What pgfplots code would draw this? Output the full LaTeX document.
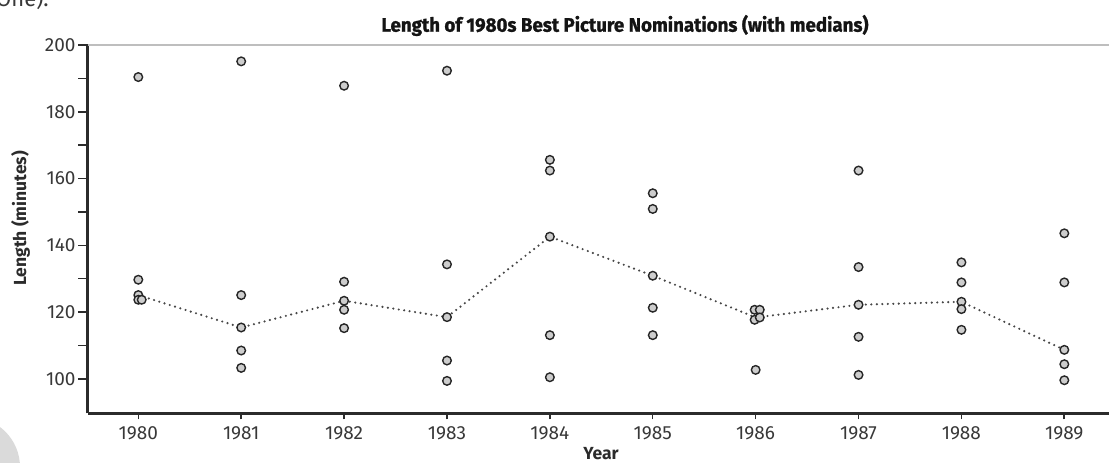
\documentclass[border=0pt]{standalone}
\usepackage{fontspec}
\setmainfont{Fira Sans}
\newfontfamily\titlefont{Fira Sans}[FakeStretch=0.96, FakeBold=1.2]
\usepackage{pgfplots}
\pgfplotsset{compat=1.18}
\usepackage{pgfplotstable}

\definecolor{axisdark}{HTML}{2B2B2B}
\definecolor{ticktext}{HTML}{383838}
\definecolor{dotfill}{HTML}{CDCDCD}
\definecolor{dotedge}{HTML}{262626}
\definecolor{medline}{HTML}{474747}
\definecolor{topline}{HTML}{BEBEBE}
\definecolor{pageshape}{HTML}{DADADA}

% Running time of each nominated film; tied values are nudged sideways
\pgfplotstableread{
year     minutes
1980     190.4
1980     129.7
1980     125.1
1980     123.7
1980.033 123.7
1981     195.1
1981     125.1
1981     115.4
1981     108.5
1981     103.3
1982     187.8
1982     129.1
1982     123.4
1982     120.7
1982     115.2
1983     192.3
1983     134.3
1983     118.5
1983     105.5
1983     99.4
1984     165.6
1984     162.4
1984     142.6
1984     113.1
1984     100.5
1985     155.6
1985     150.9
1985     130.9
1985     121.3
1985     113.1
1985.99  120.7
1986.04  120.7
1985.99  117.7
1986.04  118.4
1986     102.7
1987     162.4
1987     133.5
1987     122.2
1987     112.6
1987     101.2
1988     134.9
1988     128.9
1988     123.1
1988     120.9
1988     114.7
1989     143.6
1989     128.9
1989     108.7
1989     104.4
1989     99.6
}\nominees

% Median running time per year
\pgfplotstableread{
year median
1980 125.1
1981 115.4
1982 123.4
1983 118.5
1984 142.6
1985 130.9
1986 118.4
1987 122.2
1988 123.1
1989 108.7
}\medians

\begin{document}
\begin{tikzpicture}[x=1pt,y=1pt]
\useasboundingbox (0,0) rectangle (1109,463);
\fill[pageshape] (-30,-4) circle (50);
\node[anchor=base west, font=\fontsize{22}{26}\selectfont, text=ticktext, inner sep=0] at (-4,456) {One).};

\begin{axis}[
  at={(88pt,49.7pt)}, anchor=south west,
  scale only axis, width=1021pt, height=368.3pt,
  xmin=1979.511, xmax=1989.434, ymin=89.7, ymax=200,
  axis x line*=bottom, axis y line*=left,
  axis line style={line width=3pt, color=axisdark, -},
  xtick={1980,...,1989},
  ytick={100,120,...,200},
  minor ytick={110,130,...,190},
  tick align=outside,
  major tick length=10pt, minor tick length=10pt,
  tick style={line width=1.5pt, color=axisdark},
  xtick style={/pgfplots/major tick length=6pt},
  ticklabel style={font=\fontsize{19}{22}\selectfont, text=ticktext},
  yticklabel style={xshift=1pt},
  /pgf/number format/assume math mode=true,
  /pgf/number format/1000 sep={},
  clip=false,
]
\draw[topline, line width=1.2pt] (rel axis cs:0,1) -- (rel axis cs:1,1);
\addplot[medline, line width=2.4pt, line cap=round, dash pattern=on 0pt off 5.5pt, mark=none]
  table[x=year, y=median] {\medians};
\addplot[only marks, mark=*, mark size=4.3pt,
  mark options={fill=dotfill, draw=dotedge, line width=1.4pt, solid}]
  table[x=year, y=minutes] {\nominees};
\end{axis}

\node[anchor=base, font=\titlefont\bfseries\fontsize{19.5}{23}\selectfont, text=black!92]
  at (625,431.3) {Length of 1980s Best Picture Nominations (with medians)};
\node[rotate=90, anchor=base, font=\bfseries\fontsize{17.5}{21}\selectfont, text=axisdark]
  at (26,244.5) {Length (minutes)};
\node[anchor=base, font=\bfseries\fontsize{17.5}{21}\selectfont, text=axisdark]
  at (601,3) {Year};
\end{tikzpicture}
\end{document}
